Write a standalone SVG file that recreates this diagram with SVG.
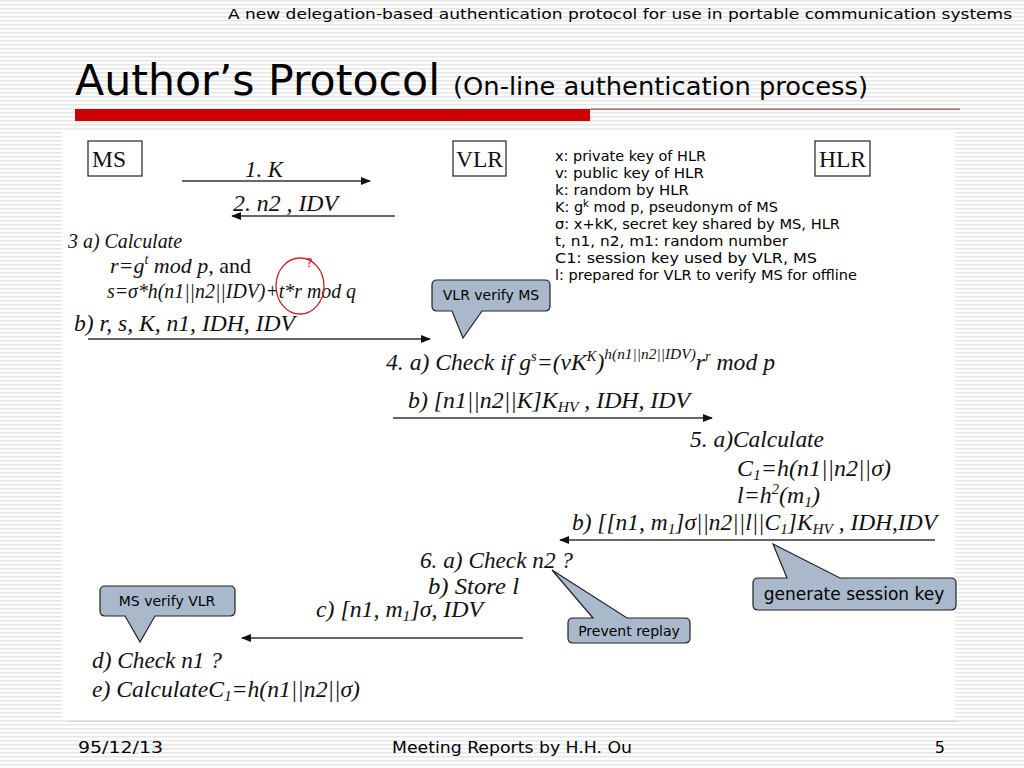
<svg xmlns="http://www.w3.org/2000/svg" width="1024" height="768" viewBox="0 0 1024 768">
<defs>
<pattern id="stripes" width="8" height="4" patternUnits="userSpaceOnUse">
<rect width="8" height="4" fill="#ffffff"/>
<rect y="0" width="8" height="1.5" fill="#e6e6e6"/>
</pattern>
<marker id="ah" viewBox="0 0 10 10" refX="9" refY="5" markerWidth="10" markerHeight="10" markerUnits="userSpaceOnUse" orient="auto">
<path d="M0,1 L10,5 L0,9 Z" fill="#111"/>
</marker>
<style>
.hd{font-family:"DejaVu Sans",Verdana,sans-serif;fill:#000}
.tm{font-family:"Liberation Serif","Times New Roman",serif;font-style:italic;fill:#111;font-size:23px}
.up{font-style:normal}
.box{fill:#fff;stroke:#333;stroke-width:1.3}
.boxt{font-family:"Liberation Serif","Times New Roman",serif;font-size:24px;fill:#111}
.leg{font-family:"DejaVu Sans",Verdana,sans-serif;font-size:14.3px;fill:#000}
.co{fill:#a9b9cb;stroke:#222;stroke-width:1.2}
.cot{font-family:"DejaVu Sans",Verdana,sans-serif;font-size:14px;fill:#000;text-anchor:middle}
.ar{stroke:#333;stroke-width:1.6;fill:none;marker-end:url(#ah)}
</style>
</defs>
<rect width="1024" height="768" fill="url(#stripes)"/>
<g id="header">
<text class="hd" x="1012" y="19" font-size="14.5" text-anchor="end" textLength="784" lengthAdjust="spacingAndGlyphs">A new delegation-based authentication protocol for use in portable communication systems</text>
<text class="hd" x="75" y="95" font-size="42" textLength="365" lengthAdjust="spacingAndGlyphs">Author’s Protocol</text>
<text class="hd" x="453" y="95" font-size="24" textLength="415" lengthAdjust="spacingAndGlyphs">(On-line authentication process)</text>
<rect x="75" y="109" width="515" height="12" fill="#cc0000"/>
<rect x="590" y="108.5" width="370" height="1.5" fill="#c06666"/>
</g>
<rect x="62" y="130" width="893" height="590" fill="#ffffff"/>
<g id="ms"><rect class="box" x="88" y="141" width="54" height="35"/><text class="boxt" x="92" y="167" textLength="34" lengthAdjust="spacingAndGlyphs">MS</text></g>
<g id="vlr"><rect class="box" x="453" y="141" width="53" height="35"/><text class="boxt" x="456" y="167" textLength="47" lengthAdjust="spacingAndGlyphs">VLR</text></g>
<g id="hlr"><rect class="box" x="815" y="141" width="55" height="35"/><text class="boxt" x="819" y="167" textLength="47" lengthAdjust="spacingAndGlyphs">HLR</text></g>
<g id="legend" class="leg">
<text x="555" y="161" textLength="151" lengthAdjust="spacingAndGlyphs">x: private key of HLR</text>
<text x="555" y="178" textLength="149" lengthAdjust="spacingAndGlyphs">v: public key of HLR</text>
<text x="555" y="195" textLength="134" lengthAdjust="spacingAndGlyphs">k: random by HLR</text>
<text x="555" y="212" textLength="223" lengthAdjust="spacingAndGlyphs">K: g<tspan dy="-5" style="font-size:10px">k</tspan><tspan dy="5"> mod p, pseudonym of MS</tspan></text>
<text x="555" y="229" textLength="285" lengthAdjust="spacingAndGlyphs">σ: x+kK, secret key shared by MS, HLR</text>
<text x="555" y="246" textLength="233" lengthAdjust="spacingAndGlyphs">t, n1, n2, m1: random number</text>
<text x="555" y="263" textLength="262" lengthAdjust="spacingAndGlyphs">C1: session key used by VLR, MS</text>
<text x="555" y="280" textLength="302" lengthAdjust="spacingAndGlyphs">l: prepared for VLR to verify MS for offline</text>
</g>
<g id="connectors">
<line class="ar" x1="182" y1="181" x2="370" y2="181"/>
<line class="ar" x1="395" y1="216" x2="232" y2="216"/>
<line class="ar" x1="88" y1="339" x2="430" y2="339"/>
<line class="ar" x1="393" y1="418" x2="712" y2="418"/>
<line class="ar" x1="935" y1="540" x2="560" y2="540"/>
<line class="ar" x1="523" y1="638" x2="242" y2="638"/>
</g>
<g id="msg1"><text class="tm" x="245" y="177" textLength="38" lengthAdjust="spacingAndGlyphs">1. K</text></g>
<g id="msg2"><text class="tm" x="233" y="211" textLength="105" lengthAdjust="spacingAndGlyphs">2. n2 , IDV</text></g>
<g id="step3">
<text class="tm" x="68" y="248" style="font-size:20px" textLength="114" lengthAdjust="spacingAndGlyphs">3 a) Calculate</text>
<text class="tm" x="110" y="273" style="font-size:22px" textLength="141" lengthAdjust="spacingAndGlyphs">r=g<tspan dy="-9" style="font-size:14px">t</tspan><tspan dy="9"> mod p, </tspan><tspan class="up">and</tspan></text>
<text class="tm" x="107" y="298" style="font-size:22px" textLength="249" lengthAdjust="spacingAndGlyphs">s=σ*h(n1||n2||IDV)+t*r mod q</text>
<ellipse cx="300" cy="286" rx="24" ry="28" fill="none" stroke="#cc2222" stroke-width="1.3"/>
<text x="306" y="267" font-family="DejaVu Sans,sans-serif" font-size="13" fill="#cc2222">?</text>
<text class="tm" x="74" y="331" style="font-size:24px" textLength="221" lengthAdjust="spacingAndGlyphs">b) r, s, K, n1, IDH, IDV</text>
</g>
<g id="step4">
<text class="tm" x="386" y="370" textLength="389" lengthAdjust="spacingAndGlyphs">4. a) Check if g<tspan dy="-9" style="font-size:14px">s</tspan><tspan dy="9">=(vK</tspan><tspan dy="-9" style="font-size:14px">K</tspan><tspan dy="9">)</tspan><tspan dy="-11" style="font-size:15px">h(n1||n2||IDV)</tspan><tspan dy="11">r</tspan><tspan dy="-9" style="font-size:14px">r</tspan><tspan dy="9"> mod p</tspan></text>
<text class="tm" x="408" y="408" textLength="282" lengthAdjust="spacingAndGlyphs">b) [n1||n2||K]K<tspan dy="4" style="font-size:15px">HV</tspan><tspan dy="-4"> , IDH, IDV</tspan></text>
</g>
<g id="step5">
<text class="tm" x="690" y="447" textLength="134" lengthAdjust="spacingAndGlyphs">5. a)Calculate</text>
<text class="tm" x="737" y="476" textLength="154" lengthAdjust="spacingAndGlyphs">C<tspan dy="4" style="font-size:15px">1</tspan><tspan dy="-4">=h(n1||n2||σ)</tspan></text>
<text class="tm" x="737" y="503" textLength="83" lengthAdjust="spacingAndGlyphs">l=h<tspan dy="-9" style="font-size:14px">2</tspan><tspan dy="9">(m</tspan><tspan dy="4" style="font-size:15px">1</tspan><tspan dy="-4">)</tspan></text>
<text class="tm" x="572" y="530" textLength="365" lengthAdjust="spacingAndGlyphs">b) [[n1, m<tspan dy="4" style="font-size:15px">1</tspan><tspan dy="-4">]σ||n2||l||C</tspan><tspan dy="4" style="font-size:15px">1</tspan><tspan dy="-4">]K</tspan><tspan dy="4" style="font-size:15px">HV</tspan><tspan dy="-4"> , IDH,IDV</tspan></text>
</g>
<g id="step6">
<text class="tm" x="420" y="568" textLength="153" lengthAdjust="spacingAndGlyphs">6. a) Check n2 ?</text>
<text class="tm" x="428" y="594" textLength="91" lengthAdjust="spacingAndGlyphs">b) Store l</text>
<text class="tm" x="316" y="617" textLength="167" lengthAdjust="spacingAndGlyphs">c) [n1, m<tspan dy="4" style="font-size:15px">1</tspan><tspan dy="-4">]σ, IDV</tspan></text>
<text class="tm" x="92" y="668" textLength="130" lengthAdjust="spacingAndGlyphs">d) Check n1 ?</text>
<text class="tm" x="92" y="697" textLength="268" lengthAdjust="spacingAndGlyphs">e) CalculateC<tspan dy="4" style="font-size:15px">1</tspan><tspan dy="-4">=h(n1||n2||σ)</tspan></text>
</g>
<g id="callout-vlr-verify">
<path class="co" d="M437,280 H545 Q550,280 550,285 V306 Q550,311 545,311 H482 L463,338 L452,311 H437 Q432,311 432,306 V285 Q432,280 437,280 Z"/>
<text class="cot" x="491" y="300">VLR verify MS</text>
</g>
<g id="callout-ms-verify">
<path class="co" d="M105,586 H230 Q235,586 235,591 V611 Q235,616 230,616 H155 L140,642 L125,616 H105 Q100,616 100,611 V591 Q100,586 105,586 Z"/>
<text class="cot" x="167" y="606">MS verify VLR</text>
</g>
<g id="callout-replay">
<path class="co" d="M573,618 H593 L552,570 L627,618 H685 Q690,618 690,623 V638 Q690,643 685,643 H573 Q568,643 568,638 V623 Q568,618 573,618 Z"/>
<text class="cot" x="629" y="636">Prevent replay</text>
</g>
<g id="callout-session">
<path class="co" d="M758,578 H787 L773,544 L840,578 H951 Q956,578 956,583 V605 Q956,610 951,610 H758 Q753,610 753,605 V583 Q753,578 758,578 Z"/>
<text class="cot" x="854" y="600" style="font-size:17px">generate session key</text>
</g>
<g id="footer">
<rect x="68" y="721" width="890" height="1" fill="#e8c8c8"/>
<text class="hd" x="78" y="753" font-size="16" textLength="85" lengthAdjust="spacingAndGlyphs">95/12/13</text>
<text class="hd" x="392" y="753" font-size="16" textLength="240" lengthAdjust="spacingAndGlyphs">Meeting Reports by H.H. Ou</text>
<text class="hd" x="945" y="753" font-size="16" text-anchor="end">5</text>
</g>
</svg>
